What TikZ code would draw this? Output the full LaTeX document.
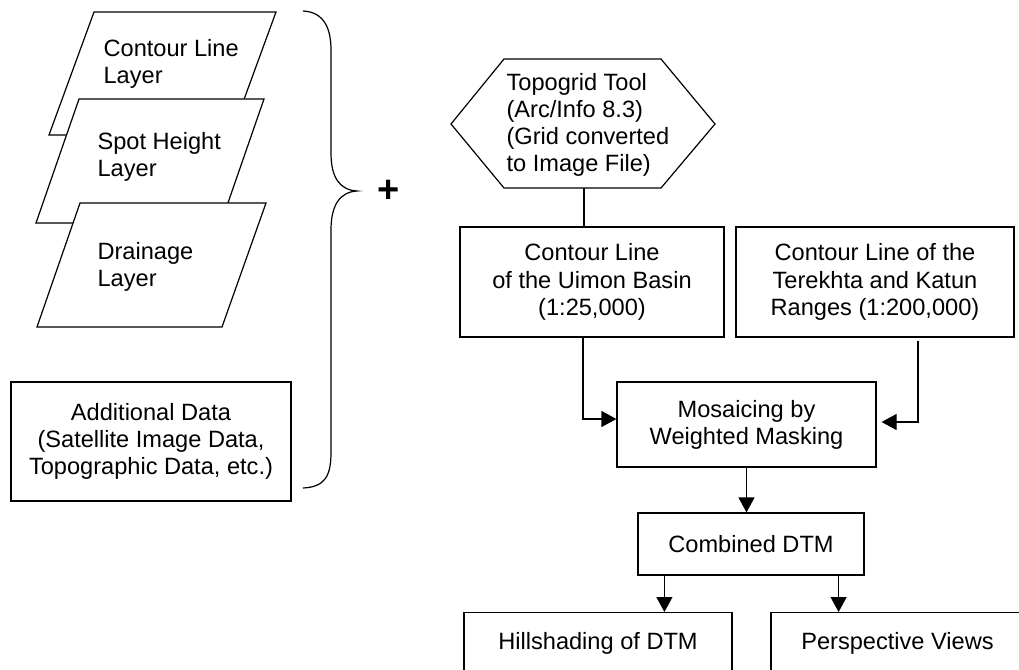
\documentclass[tikz,border=0pt]{standalone}
\usepackage{fontspec}
\setmainfont{Liberation Sans}
\usetikzlibrary{arrows.meta}

\begin{document}
\begin{tikzpicture}[x=0.5pt, y=-0.5pt, line width=0.6pt,
    font=\fontsize{11.8}{13.6}\selectfont,
    blk/.style={draw, fill=white, align=center, inner sep=2pt},
    txt/.style={anchor=west, align=left, inner sep=0pt},
    arr/.style={-{Triangle[length=7.5pt,width=8pt]}}]
    \path[use as bounding box, clip] (0,0) rectangle (1019,670);

    % input layers
    \filldraw[fill=white] (94,12) -- (276,12) -- (231,135) -- (49,135) -- cycle;
    \node[txt] (contour) at (103,64) {Contour Line\\Layer};
    \filldraw[fill=white] (79,99) -- (264,99) -- (221,223) -- (36,223) -- cycle;
    \node[txt] (spot) at (97,157) {Spot Height\\Layer};
    \filldraw[fill=white] (80,203) -- (266,203) -- (222,327) -- (37,327) -- cycle;
    \node[txt] (drain) at (97,267) {Drainage\\Layer};

    \node[blk, minimum width=140pt, minimum height=59.5pt] (addl) at (151,441.5)
        {Additional Data\\(Satellite Image Data,\\Topographic Data, etc.)};

    % brace
    \draw (303,11) .. controls (325,12) and (331,30) .. (331,50) -- (331,153)
        .. controls (331,178) and (340,190) .. (357,191)
        .. controls (340,192) and (331,205) .. (331,230) -- (331,452)
        .. controls (331,476) and (325,487) .. (303,488);
    \node[font=\fontsize{19}{19}\selectfont\bfseries] (plus) at (389,191) {+};

    % topogrid
    \draw (504,59) -- (661,59) -- (715,124) -- (661,188) -- (504,188) -- (451,124) -- cycle;
    \coordinate (topo-s) at (584,188);
    \node[txt] (topo) at (506,125) {Topogrid Tool\\(Arc/Info 8.3)\\(Grid converted\\to Image File)};

    \node[blk, minimum width=132pt, minimum height=55pt] (uimon) at (592,282)
        {Contour Line\\of the Uimon Basin\\(1:25,000)};
    \node[blk, minimum width=139pt, minimum height=55pt] (terek) at (875,282)
        {Contour Line of the\\Terekhta and Katun\\Ranges (1:200,000)};
    \node[blk, minimum width=129.5pt, minimum height=42.5pt] (mosaic) at (746.5,424.5)
        {Mosaicing by\\Weighted Masking};
    \node[blk, minimum width=113pt, minimum height=31pt] (combined) at (751,544)
        {Combined DTM};
    \node[blk, anchor=north, minimum width=134pt, minimum height=31pt] (hill) at (598,612)
        {Hillshading of DTM};
    \node[blk, anchor=north, minimum width=126.5pt, minimum height=31pt] (persp) at (897.5,612)
        {Perspective Views};

    \draw (topo-s) -- (topo-s |- uimon.north);
    \draw[arr] ([xshift=-4.5pt]uimon.south) |- ([yshift=2.75pt]mosaic.west);
    \draw[arr] ([xshift=21.5pt,yshift=-1.5pt]terek.south) |- ([xshift=2.5pt,yshift=1.25pt]mosaic.east);
    \draw[arr] (mosaic.south) -- (mosaic.south |- combined.north);
    \coordinate (c1) at ([xshift=13.5pt]combined.south west);
    \coordinate (c2) at ([xshift=-13pt]combined.south east);
    \draw[arr] (c1) -- (c1 |- hill.north);
    \draw[arr] (c2) -- (c2 |- persp.north);
\end{tikzpicture}
\end{document}
